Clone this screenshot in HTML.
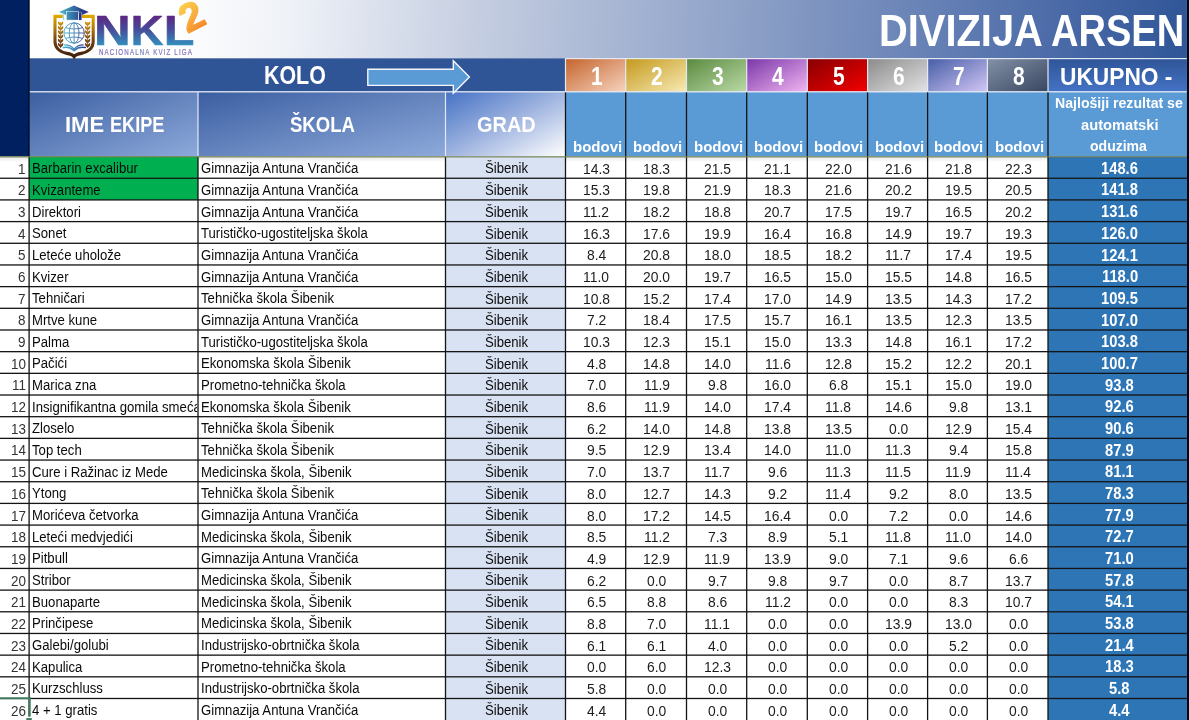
<!DOCTYPE html>
<html lang="hr"><head><meta charset="utf-8"><title>DIVIZIJA ARSEN</title>
<style>
*{box-sizing:border-box;margin:0;padding:0}
html,body{width:1189px;height:720px;overflow:hidden;background:#fff}
body{position:relative;font-family:"Liberation Sans",sans-serif;color:#000}
svg.bg{position:absolute;left:0;top:0}
.t{position:absolute;white-space:nowrap;transform-origin:0 0}
.w{color:#fff;font-weight:bold}
.nm{color:#0a0a0a}
.num{color:#1c1c1c}
.idx{color:#333}
.clip{position:absolute;overflow:hidden}
</style></head><body>
<svg class="bg" width="1189" height="720" viewBox="0 0 1189 720">
<defs>
<linearGradient id="gb" gradientUnits="userSpaceOnUse" x1="170" y1="0" x2="1190" y2="70"><stop offset="0" stop-color="#fff"/><stop offset=".12" stop-color="#eef1f7"/><stop offset=".3" stop-color="#c5cee1"/><stop offset=".5" stop-color="#9aabcd"/><stop offset=".7" stop-color="#7089ba"/><stop offset=".88" stop-color="#4868a6"/><stop offset="1" stop-color="#2f5597"/></linearGradient>
<linearGradient id="g1" x1="0" y1="0" x2="1" y2="1"><stop offset="0" stop-color="#3b5ea1"/><stop offset="1" stop-color="#8eaadb"/></linearGradient>
<linearGradient id="g3" x1="0" y1="0" x2="1" y2="1"><stop offset="0" stop-color="#4472c4"/><stop offset=".5" stop-color="#9fb4e0"/><stop offset="1" stop-color="#fff"/></linearGradient>
<linearGradient id="gu" x1="0" y1="0" x2="0" y2="1"><stop offset="0" stop-color="#2f5597"/><stop offset="1" stop-color="#4472c4"/></linearGradient>
<linearGradient id="gs" x1="0" y1="0" x2="0" y2="1"><stop offset="0" stop-color="#e6e6e6"/><stop offset="1" stop-color="#fff"/></linearGradient>
<linearGradient id="r0" x1="0" y1="0" x2="1" y2="1"><stop offset="0" stop-color="#c5632b"/><stop offset="1" stop-color="#f7d3bf"/></linearGradient>
<linearGradient id="r1" x1="0" y1="0" x2="1" y2="1"><stop offset="0" stop-color="#c3981a"/><stop offset="1" stop-color="#f9ebb6"/></linearGradient>
<linearGradient id="r2" x1="0" y1="0" x2="1" y2="1"><stop offset="0" stop-color="#5a893e"/><stop offset="1" stop-color="#badaa6"/></linearGradient>
<linearGradient id="r3" x1="0" y1="0" x2="1" y2="1"><stop offset="0" stop-color="#7836a7"/><stop offset="1" stop-color="#f2b4f2"/></linearGradient>
<linearGradient id="r4" x1="0" y1="0" x2="1" y2="1"><stop offset="0" stop-color="#870000"/><stop offset="1" stop-color="#f40000"/></linearGradient>
<linearGradient id="r5" x1="0" y1="0" x2="1" y2="1"><stop offset="0" stop-color="#8a8a8a"/><stop offset="1" stop-color="#e3e3e3"/></linearGradient>
<linearGradient id="r6" x1="0" y1="0" x2="1" y2="1"><stop offset="0" stop-color="#445ca6"/><stop offset="1" stop-color="#d3c7f6"/></linearGradient>
<linearGradient id="r7" x1="0" y1="0" x2="1" y2="1"><stop offset="0" stop-color="#8392a9"/><stop offset="1" stop-color="#38465f"/></linearGradient>

<linearGradient id="lgS" gradientUnits="userSpaceOnUse" x1="0" y1="15" x2="0" y2="58"><stop offset="0" stop-color="#e2ab00"/><stop offset=".3" stop-color="#b47a08"/><stop offset=".62" stop-color="#6e3f12"/><stop offset="1" stop-color="#3d1d0a"/></linearGradient>
<linearGradient id="lgC" gradientUnits="userSpaceOnUse" x1="59" y1="0" x2="89" y2="0"><stop offset="0" stop-color="#5bc0d2"/><stop offset=".3" stop-color="#3c8fb4"/><stop offset=".7" stop-color="#2d4a90"/><stop offset=".9" stop-color="#2a2f80"/><stop offset="1" stop-color="#4f2a86"/></linearGradient>
<linearGradient id="lgG" gradientUnits="userSpaceOnUse" x1="63" y1="0" x2="86" y2="0"><stop offset="0" stop-color="#3fb0cc"/><stop offset=".5" stop-color="#3f7fb4"/><stop offset="1" stop-color="#2a3488"/></linearGradient>
<linearGradient id="lgN" gradientUnits="userSpaceOnUse" x1="0" y1="-29.5" x2="0" y2="0.5"><stop offset="0" stop-color="#5e2583"/><stop offset=".45" stop-color="#474a98"/><stop offset="1" stop-color="#3290bd"/></linearGradient>
<linearGradient id="lg2" gradientUnits="userSpaceOnUse" x1="4" y1="-28" x2="14" y2="2"><stop offset="0" stop-color="#fbd04f"/><stop offset=".5" stop-color="#f9b040"/><stop offset="1" stop-color="#f68a2a"/></linearGradient>
<linearGradient id="lgT" gradientUnits="userSpaceOnUse" x1="0" y1="0" x2="120" y2="0"><stop offset="0" stop-color="#5a3594"/><stop offset=".5" stop-color="#4a55a6"/><stop offset="1" stop-color="#5a3a98"/></linearGradient>

</defs>
<rect x="0" y="0" width="1189" height="720" fill="#fff"/>
<rect x="0" y="0" width="29.1" height="156.57" fill="#002060"/>
<rect x="29.1" y="0" width="1157.8" height="58.3" fill="url(#gb)"/>
<rect x="29.1" y="58.3" width="536.4" height="33.5" fill="#2f5597"/>
<rect x="29.1" y="91.8" width="168.9" height="64.77" fill="url(#g1)"/>
<rect x="198" y="91.8" width="247.5" height="64.77" fill="url(#g1)"/>
<rect x="445.5" y="91.8" width="120" height="64.77" fill="url(#g3)"/>
<rect x="565.5" y="91.8" width="621.4" height="64.77" fill="#5b9bd5"/>
<rect x="565.5" y="58.3" width="60.2" height="33.5" fill="url(#r0)"/>
<rect x="625.7" y="58.3" width="60.8" height="33.5" fill="url(#r1)"/>
<rect x="686.5" y="58.3" width="60.2" height="33.5" fill="url(#r2)"/>
<rect x="746.7" y="58.3" width="60.6" height="33.5" fill="url(#r3)"/>
<rect x="807.3" y="58.3" width="60.3" height="33.5" fill="url(#r4)"/>
<rect x="867.6" y="58.3" width="60" height="33.5" fill="url(#r5)"/>
<rect x="927.6" y="58.3" width="59.8" height="33.5" fill="url(#r6)"/>
<rect x="987.4" y="58.3" width="60.6" height="33.5" fill="url(#r7)"/>
<rect x="1048" y="58.3" width="138.9" height="33.5" fill="url(#gu)"/>
<rect x="0" y="156.57" width="1186.9" height="5.5" fill="url(#gs)"/>
<rect x="29.1" y="156.57" width="168.9" height="43.35" fill="#00b050"/>
<rect x="445.5" y="156.57" width="120" height="563.43" fill="#d9e2f3"/>
<rect x="1048" y="156.57" width="138.9" height="563.43" fill="#2e75b6"/>
<rect x="29.1" y="91.15" width="1157.8" height="1.3" fill="#e2e8f4"/>
<rect x="565.5" y="58" width="621.4" height="1.2" fill="#e2e8f4"/>
<rect x="197.4" y="91.8" width="1.2" height="64.77" fill="#e2e8f4"/>
<rect x="444.9" y="91.8" width="1.2" height="64.77" fill="#e2e8f4"/>
<rect x="564.9" y="58.3" width="1.2" height="33.5" fill="#e2e8f4"/>
<rect x="625.1" y="58.3" width="1.2" height="33.5" fill="#e2e8f4"/>
<rect x="685.9" y="58.3" width="1.2" height="33.5" fill="#e2e8f4"/>
<rect x="746.1" y="58.3" width="1.2" height="33.5" fill="#e2e8f4"/>
<rect x="806.7" y="58.3" width="1.2" height="33.5" fill="#e2e8f4"/>
<rect x="867" y="58.3" width="1.2" height="33.5" fill="#e2e8f4"/>
<rect x="927" y="58.3" width="1.2" height="33.5" fill="#e2e8f4"/>
<rect x="986.8" y="58.3" width="1.2" height="33.5" fill="#e2e8f4"/>
<rect x="1047.4" y="58.3" width="1.2" height="33.5" fill="#e2e8f4"/>
<rect x="28.3" y="0" width="1.4" height="156.57" fill="#000c24"/>
<rect x="564.85" y="92.4" width="1.3" height="64.17" fill="#141414"/>
<rect x="625.05" y="92.4" width="1.3" height="64.17" fill="#141414"/>
<rect x="685.85" y="92.4" width="1.3" height="64.17" fill="#141414"/>
<rect x="746.05" y="92.4" width="1.3" height="64.17" fill="#141414"/>
<rect x="806.65" y="92.4" width="1.3" height="64.17" fill="#141414"/>
<rect x="866.95" y="92.4" width="1.3" height="64.17" fill="#141414"/>
<rect x="926.95" y="92.4" width="1.3" height="64.17" fill="#141414"/>
<rect x="986.75" y="92.4" width="1.3" height="64.17" fill="#141414"/>
<rect x="1047.35" y="92.4" width="1.3" height="64.17" fill="#141414"/>
<rect x="28.45" y="156.57" width="1.3" height="563.43" fill="#141414"/>
<rect x="197.35" y="156.57" width="1.3" height="563.43" fill="#141414"/>
<rect x="444.85" y="156.57" width="1.3" height="563.43" fill="#141414"/>
<rect x="564.85" y="156.57" width="1.3" height="563.43" fill="#141414"/>
<rect x="625.05" y="156.57" width="1.3" height="563.43" fill="#141414"/>
<rect x="685.85" y="156.57" width="1.3" height="563.43" fill="#141414"/>
<rect x="746.05" y="156.57" width="1.3" height="563.43" fill="#141414"/>
<rect x="806.65" y="156.57" width="1.3" height="563.43" fill="#141414"/>
<rect x="866.95" y="156.57" width="1.3" height="563.43" fill="#141414"/>
<rect x="926.95" y="156.57" width="1.3" height="563.43" fill="#141414"/>
<rect x="986.75" y="156.57" width="1.3" height="563.43" fill="#141414"/>
<rect x="1047.35" y="156.57" width="1.3" height="563.43" fill="#141414"/>
<rect x="0" y="177.6" width="1186.9" height="1.3" fill="#141414"/>
<rect x="0" y="199.27" width="1186.9" height="1.3" fill="#141414"/>
<rect x="0" y="220.95" width="1186.9" height="1.3" fill="#141414"/>
<rect x="0" y="242.63" width="1186.9" height="1.3" fill="#141414"/>
<rect x="0" y="264.31" width="1186.9" height="1.3" fill="#141414"/>
<rect x="0" y="285.98" width="1186.9" height="1.3" fill="#141414"/>
<rect x="0" y="307.66" width="1186.9" height="1.3" fill="#141414"/>
<rect x="0" y="329.34" width="1186.9" height="1.3" fill="#141414"/>
<rect x="0" y="351.01" width="1186.9" height="1.3" fill="#141414"/>
<rect x="0" y="372.69" width="1186.9" height="1.3" fill="#141414"/>
<rect x="0" y="394.37" width="1186.9" height="1.3" fill="#141414"/>
<rect x="0" y="416.04" width="1186.9" height="1.3" fill="#141414"/>
<rect x="0" y="437.72" width="1186.9" height="1.3" fill="#141414"/>
<rect x="0" y="459.4" width="1186.9" height="1.3" fill="#141414"/>
<rect x="0" y="481.07" width="1186.9" height="1.3" fill="#141414"/>
<rect x="0" y="502.75" width="1186.9" height="1.3" fill="#141414"/>
<rect x="0" y="524.43" width="1186.9" height="1.3" fill="#141414"/>
<rect x="0" y="546.11" width="1186.9" height="1.3" fill="#141414"/>
<rect x="0" y="567.78" width="1186.9" height="1.3" fill="#141414"/>
<rect x="0" y="589.46" width="1186.9" height="1.3" fill="#141414"/>
<rect x="0" y="611.14" width="1186.9" height="1.3" fill="#141414"/>
<rect x="0" y="632.81" width="1186.9" height="1.3" fill="#141414"/>
<rect x="0" y="654.49" width="1186.9" height="1.3" fill="#141414"/>
<rect x="0" y="676.17" width="1186.9" height="1.3" fill="#141414"/>
<rect x="0" y="697.84" width="1186.9" height="1.3" fill="#141414"/>
<rect x="0" y="156.32" width="1186.9" height="1.1" fill="#6c7b45"/>
<rect x="0" y="697.3" width="30.7" height="1.9" fill="#3d7d5d"/>
<rect x="28.5" y="697.3" width="2.2" height="19.3" fill="#3d7d5d"/>
<rect x="27.5" y="716.7" width="4.2" height="1.3" fill="#fff"/>
<rect x="26.3" y="718.1" width="5.5" height="2" fill="#3d7d5d"/>
<path d="M367.8 69.3H453.3V60.8L469.4 77 453.3 93.2V85.4H367.8Z" fill="#5b9bd5" stroke="#f4f7fc" stroke-width="1.4"/>
<g id="logo">
<path d="M62.8 16.4H55V41.2C55 49 61.5 52.6 66.8 53.4 70.6 54 72.9 54.8 74.1 56.6 75.3 54.8 77.6 54 81.4 53.4 86.7 52.6 93.2 49 93.2 41.2V16.4H82" fill="none" stroke="url(#lgS)" stroke-width="3.1" stroke-linejoin="miter"/>
<path d="M60.6 22V48" stroke="url(#lgS)" stroke-width=".8" fill="none"/><path d="M60.6 25.700000000000003c-2.3 -.4 -3 -2.3 -2.6 -4.1 1.8 .6 2.7 2.1 2.6 4.1zm0 0c2.3 -.4 3 -2.3 2.6 -4.1 -1.8 .6 -2.7 2.1 -2.6 4.1z" fill="url(#lgS)"/><path d="M60.6 30.0c-2.3 -.4 -3 -2.3 -2.6 -4.1 1.8 .6 2.7 2.1 2.6 4.1zm0 0c2.3 -.4 3 -2.3 2.6 -4.1 -1.8 .6 -2.7 2.1 -2.6 4.1z" fill="url(#lgS)"/><path d="M60.6 34.3c-2.3 -.4 -3 -2.3 -2.6 -4.1 1.8 .6 2.7 2.1 2.6 4.1zm0 0c2.3 -.4 3 -2.3 2.6 -4.1 -1.8 .6 -2.7 2.1 -2.6 4.1z" fill="url(#lgS)"/><path d="M60.6 38.6c-2.3 -.4 -3 -2.3 -2.6 -4.1 1.8 .6 2.7 2.1 2.6 4.1zm0 0c2.3 -.4 3 -2.3 2.6 -4.1 -1.8 .6 -2.7 2.1 -2.6 4.1z" fill="url(#lgS)"/><path d="M60.6 42.9c-2.3 -.4 -3 -2.3 -2.6 -4.1 1.8 .6 2.7 2.1 2.6 4.1zm0 0c2.3 -.4 3 -2.3 2.6 -4.1 -1.8 .6 -2.7 2.1 -2.6 4.1z" fill="url(#lgS)"/><path d="M60.6 47.199999999999996c-2.3 -.4 -3 -2.3 -2.6 -4.1 1.8 .6 2.7 2.1 2.6 4.1zm0 0c2.3 -.4 3 -2.3 2.6 -4.1 -1.8 .6 -2.7 2.1 -2.6 4.1z" fill="url(#lgS)"/><path d="M87.6 22V48" stroke="url(#lgS)" stroke-width=".8" fill="none"/><path d="M87.6 25.700000000000003c-2.3 -.4 -3 -2.3 -2.6 -4.1 1.8 .6 2.7 2.1 2.6 4.1zm0 0c2.3 -.4 3 -2.3 2.6 -4.1 -1.8 .6 -2.7 2.1 -2.6 4.1z" fill="url(#lgS)"/><path d="M87.6 30.0c-2.3 -.4 -3 -2.3 -2.6 -4.1 1.8 .6 2.7 2.1 2.6 4.1zm0 0c2.3 -.4 3 -2.3 2.6 -4.1 -1.8 .6 -2.7 2.1 -2.6 4.1z" fill="url(#lgS)"/><path d="M87.6 34.3c-2.3 -.4 -3 -2.3 -2.6 -4.1 1.8 .6 2.7 2.1 2.6 4.1zm0 0c2.3 -.4 3 -2.3 2.6 -4.1 -1.8 .6 -2.7 2.1 -2.6 4.1z" fill="url(#lgS)"/><path d="M87.6 38.6c-2.3 -.4 -3 -2.3 -2.6 -4.1 1.8 .6 2.7 2.1 2.6 4.1zm0 0c2.3 -.4 3 -2.3 2.6 -4.1 -1.8 .6 -2.7 2.1 -2.6 4.1z" fill="url(#lgS)"/><path d="M87.6 42.9c-2.3 -.4 -3 -2.3 -2.6 -4.1 1.8 .6 2.7 2.1 2.6 4.1zm0 0c2.3 -.4 3 -2.3 2.6 -4.1 -1.8 .6 -2.7 2.1 -2.6 4.1z" fill="url(#lgS)"/><path d="M87.6 47.199999999999996c-2.3 -.4 -3 -2.3 -2.6 -4.1 1.8 .6 2.7 2.1 2.6 4.1zm0 0c2.3 -.4 3 -2.3 2.6 -4.1 -1.8 .6 -2.7 2.1 -2.6 4.1z" fill="url(#lgS)"/>
<g fill="none" stroke="url(#lgG)" stroke-width="1" opacity=".9"><circle cx="74.1" cy="33" r="10.2"/><ellipse cx="74.1" cy="33" rx="4.9" ry="10.2"/><path d="M74.1 22.8V43.2M63.9 33H84.3M65.6 27.6C70.8 29.4 77.4 29.4 82.6 27.6M65.6 38.4C70.8 36.6 77.4 36.6 82.6 38.4"/></g>
<g fill="none" stroke="url(#lgG)" stroke-linecap="round"><path d="M63.4 47.6C67.6 46.7 71.3 48 74.1 50.6 76.9 48 80.6 46.7 85.3 47.6" stroke-width="1.5"/><path d="M64.6 44.9C68.4 44.8 71.6 46.3 74.1 49.2 76.6 46.3 79.8 44.8 83.2 44.9" stroke-width="1.1"/></g>
<path d="M59 12.1L74 5.5 88.7 12.1 81.9 15V12.6H66.2V15.1Z" fill="url(#lgC)"/>
<rect x="66.3" y="11.6" width="12" height="8.5" fill="url(#lgC)" stroke="#fff" stroke-width=".5"/>
<rect x="78.9" y="12.4" width="2.7" height="7.7" fill="#2b3585"/>
<path d="M63.6 13.2V18.6" stroke="#7fd0e0" stroke-width=".8" fill="none"/><circle cx="63.7" cy="19" r=".8" fill="#6cc4d8"/>
<text transform="translate(94.01 45.0) scale(1.1982 1)" font-family="'Liberation Sans',sans-serif" font-weight="bold" font-size="42.30" fill="url(#lgN)" stroke="url(#lgN)" stroke-width=".6" stroke-linejoin="round">N</text>
<text transform="translate(130.76 45.0) scale(1.0703 1)" font-family="'Liberation Sans',sans-serif" font-weight="bold" font-size="42.30" fill="url(#lgN)" stroke="url(#lgN)" stroke-width=".6" stroke-linejoin="round">K</text>
<text transform="translate(163.83 45.0) scale(1.1890 1)" font-family="'Liberation Sans',sans-serif" font-weight="bold" font-size="42.30" fill="url(#lgN)" stroke="url(#lgN)" stroke-width=".6" stroke-linejoin="round">L</text>
<text transform="translate(187.4 33.6) rotate(-27) scale(1.04 1)" font-family="'Liberation Sans',sans-serif" font-weight="bold" font-size="39.5" fill="url(#lg2)" stroke="url(#lg2)" stroke-width="1.2" stroke-linejoin="round">2</text>
<text transform="translate(99 54.8) scale(.74 1)" font-family="'Liberation Sans',sans-serif" font-size="8.4" textLength="125.5" lengthAdjust="spacing" fill="url(#lgT)" stroke="url(#lgT)" stroke-width=".2" opacity=".75">NACIONALNA KVIZ LIGA</text>
</g>

<rect x="1186.9" y="0" width="2.1" height="720" fill="#00091c"/>
</svg>
<div class="t w" id="title" style="left:879.01px;top:8px;font-size:45.06px;line-height:46px;transform:scaleX(0.8844);">DIVIZIJA</div>
<div class="t w" id="title2" style="left:1051.25px;top:8px;font-size:45.06px;line-height:46px;transform:scaleX(0.8448);">ARSEN</div>
<div class="t w" id="kolo" style="left:263.91px;top:63px;font-size:25px;line-height:25px;transform:scaleX(0.8561);">KOLO</div>
<div class="t w" id="uk" style="left:1059.74px;top:64px;font-size:24.42px;line-height:25px;transform:scaleX(0.9315);">UKUPNO -</div>
<div class="t w" style="left:591.21px;top:64px;font-size:25px;line-height:25px;transform:scaleX(0.839);">1</div>
<div class="t w" style="left:651.33px;top:64px;font-size:25px;line-height:25px;transform:scaleX(0.839);">2</div>
<div class="t w" style="left:711.88px;top:64px;font-size:25px;line-height:25px;transform:scaleX(0.839);">3</div>
<div class="t w" style="left:772.07px;top:64px;font-size:25px;line-height:25px;transform:scaleX(0.839);">4</div>
<div class="t w" style="left:832.58px;top:64px;font-size:25px;line-height:25px;transform:scaleX(0.839);">5</div>
<div class="t w" style="left:892.78px;top:64px;font-size:25px;line-height:25px;transform:scaleX(0.839);">6</div>
<div class="t w" style="left:952.68px;top:64px;font-size:25px;line-height:25px;transform:scaleX(0.839);">7</div>
<div class="t w" style="left:1012.88px;top:64px;font-size:25px;line-height:25px;transform:scaleX(0.839);">8</div>
<div class="t w" style="left:64.67px;top:114px;font-size:21.66px;line-height:22px;transform:scaleX(1.0145);">IME</div>
<div class="t w" style="left:109.82px;top:114px;font-size:21.66px;line-height:22px;transform:scaleX(0.8375);">EKIPE</div>
<div class="t w" style="left:289.64px;top:114px;font-size:21.66px;line-height:22px;transform:scaleX(0.8551);">ŠKOLA</div>
<div class="t w" style="left:476.6px;top:114px;font-size:21.66px;line-height:22px;transform:scaleX(0.9203);">GRAD</div>
<div class="t w" style="left:572.57px;top:139px;font-size:15.17px;line-height:16px;transform:scaleX(0.9913);">bodovi</div>
<div class="t w" style="left:633.07px;top:139px;font-size:15.17px;line-height:16px;transform:scaleX(0.9913);">bodovi</div>
<div class="t w" style="left:693.57px;top:139px;font-size:15.17px;line-height:16px;transform:scaleX(0.9913);">bodovi</div>
<div class="t w" style="left:753.97px;top:139px;font-size:15.17px;line-height:16px;transform:scaleX(0.9913);">bodovi</div>
<div class="t w" style="left:814.42px;top:139px;font-size:15.17px;line-height:16px;transform:scaleX(0.9913);">bodovi</div>
<div class="t w" style="left:874.57px;top:139px;font-size:15.17px;line-height:16px;transform:scaleX(0.9913);">bodovi</div>
<div class="t w" style="left:934.47px;top:139px;font-size:15.17px;line-height:16px;transform:scaleX(0.9913);">bodovi</div>
<div class="t w" style="left:994.67px;top:139px;font-size:15.17px;line-height:16px;transform:scaleX(0.9913);">bodovi</div>
<div class="t w" style="left:1055.18px;top:96px;font-size:14.68px;line-height:15px;transform:scaleX(0.9617);">Najlošiji rezultat se</div>
<div class="t w" style="left:1080.56px;top:118px;font-size:14.68px;line-height:15px;transform:scaleX(1.0007);">automatski</div>
<div class="t w" style="left:1089.94px;top:139px;font-size:14.68px;line-height:15px;transform:scaleX(0.9562);">oduzima</div>
<div class="t idx" style="left:18.23px;top:162px;font-size:13.95px;line-height:14px;transform:scaleX(0.9651);">1</div><div class="t nm" style="left:31.85px;top:162px;font-size:13.74px;line-height:14px;transform:scaleX(0.957);">Barbarin excalibur</div><div class="t nm" style="left:200.7px;top:162px;font-size:13.74px;line-height:14px;transform:scaleX(0.957);">Gimnazija Antuna Vrančića</div><div class="t nm" style="left:484.85px;top:162px;font-size:13.74px;line-height:14px;transform:scaleX(0.957);">Šibenik</div><div class="t num" style="left:582.76px;top:162px;font-size:13.95px;line-height:14px;transform:scaleX(0.995);">14.3</div><div class="t num" style="left:643.26px;top:162px;font-size:13.95px;line-height:14px;transform:scaleX(0.995);">18.3</div><div class="t num" style="left:703.93px;top:162px;font-size:13.95px;line-height:14px;transform:scaleX(0.995);">21.5</div><div class="t num" style="left:764.37px;top:162px;font-size:13.95px;line-height:14px;transform:scaleX(0.995);">21.1</div><div class="t num" style="left:824.75px;top:162px;font-size:13.95px;line-height:14px;transform:scaleX(0.995);">22.0</div><div class="t num" style="left:884.93px;top:162px;font-size:13.95px;line-height:14px;transform:scaleX(0.995);">21.6</div><div class="t num" style="left:944.83px;top:162px;font-size:13.95px;line-height:14px;transform:scaleX(0.995);">21.8</div><div class="t num" style="left:1005.03px;top:162px;font-size:13.95px;line-height:14px;transform:scaleX(0.995);">22.3</div><div class="t w" style="left:1101.11px;top:161px;font-size:15.7px;line-height:16px;transform:scaleX(0.9403);">148.6</div>
<div class="t idx" style="left:18.3px;top:183px;font-size:13.95px;line-height:14px;transform:scaleX(0.9651);">2</div><div class="t nm" style="left:31.85px;top:184px;font-size:13.74px;line-height:14px;transform:scaleX(0.957);">Kvizanteme</div><div class="t nm" style="left:200.7px;top:184px;font-size:13.74px;line-height:14px;transform:scaleX(0.957);">Gimnazija Antuna Vrančića</div><div class="t nm" style="left:484.85px;top:184px;font-size:13.74px;line-height:14px;transform:scaleX(0.957);">Šibenik</div><div class="t num" style="left:582.76px;top:183px;font-size:13.95px;line-height:14px;transform:scaleX(0.995);">15.3</div><div class="t num" style="left:643.26px;top:183px;font-size:13.95px;line-height:14px;transform:scaleX(0.995);">19.8</div><div class="t num" style="left:703.97px;top:183px;font-size:13.95px;line-height:14px;transform:scaleX(0.995);">21.9</div><div class="t num" style="left:764.16px;top:183px;font-size:13.95px;line-height:14px;transform:scaleX(0.995);">18.3</div><div class="t num" style="left:824.78px;top:183px;font-size:13.95px;line-height:14px;transform:scaleX(0.995);">21.6</div><div class="t num" style="left:885px;top:183px;font-size:13.95px;line-height:14px;transform:scaleX(0.995);">20.2</div><div class="t num" style="left:944.66px;top:183px;font-size:13.95px;line-height:14px;transform:scaleX(0.995);">19.5</div><div class="t num" style="left:1005.03px;top:183px;font-size:13.95px;line-height:14px;transform:scaleX(0.995);">20.5</div><div class="t w" style="left:1101.08px;top:182px;font-size:15.7px;line-height:16px;transform:scaleX(0.9403);">141.8</div>
<div class="t idx" style="left:18.17px;top:205px;font-size:13.95px;line-height:14px;transform:scaleX(0.9651);">3</div><div class="t nm" style="left:31.85px;top:206px;font-size:13.74px;line-height:14px;transform:scaleX(0.957);">Direktori</div><div class="t nm" style="left:200.7px;top:206px;font-size:13.74px;line-height:14px;transform:scaleX(0.957);">Gimnazija Antuna Vrančića</div><div class="t nm" style="left:484.85px;top:206px;font-size:13.74px;line-height:14px;transform:scaleX(0.957);">Šibenik</div><div class="t num" style="left:583.35px;top:205px;font-size:13.95px;line-height:14px;transform:scaleX(0.995);">11.2</div><div class="t num" style="left:643.33px;top:205px;font-size:13.95px;line-height:14px;transform:scaleX(0.995);">18.2</div><div class="t num" style="left:703.76px;top:205px;font-size:13.95px;line-height:14px;transform:scaleX(0.995);">18.8</div><div class="t num" style="left:764.4px;top:205px;font-size:13.95px;line-height:14px;transform:scaleX(0.995);">20.7</div><div class="t num" style="left:824.61px;top:205px;font-size:13.95px;line-height:14px;transform:scaleX(0.995);">17.5</div><div class="t num" style="left:884.83px;top:205px;font-size:13.95px;line-height:14px;transform:scaleX(0.995);">19.7</div><div class="t num" style="left:944.66px;top:205px;font-size:13.95px;line-height:14px;transform:scaleX(0.995);">16.5</div><div class="t num" style="left:1005.1px;top:205px;font-size:13.95px;line-height:14px;transform:scaleX(0.995);">20.2</div><div class="t w" style="left:1101.11px;top:204px;font-size:15.7px;line-height:16px;transform:scaleX(0.9403);">131.6</div>
<div class="t idx" style="left:18.03px;top:227px;font-size:13.95px;line-height:14px;transform:scaleX(0.9651);">4</div><div class="t nm" style="left:31.85px;top:227px;font-size:13.74px;line-height:14px;transform:scaleX(0.957);">Sonet</div><div class="t nm" style="left:200.7px;top:227px;font-size:13.74px;line-height:14px;transform:scaleX(0.957);">Turističko-ugostiteljska škola</div><div class="t nm" style="left:484.85px;top:228px;font-size:13.74px;line-height:14px;transform:scaleX(0.957);">Šibenik</div><div class="t num" style="left:582.76px;top:227px;font-size:13.95px;line-height:14px;transform:scaleX(0.995);">16.3</div><div class="t num" style="left:643.26px;top:227px;font-size:13.95px;line-height:14px;transform:scaleX(0.995);">17.6</div><div class="t num" style="left:703.79px;top:227px;font-size:13.95px;line-height:14px;transform:scaleX(0.995);">19.9</div><div class="t num" style="left:764.09px;top:227px;font-size:13.95px;line-height:14px;transform:scaleX(0.995);">16.4</div><div class="t num" style="left:824.61px;top:227px;font-size:13.95px;line-height:14px;transform:scaleX(0.995);">16.8</div><div class="t num" style="left:884.79px;top:227px;font-size:13.95px;line-height:14px;transform:scaleX(0.995);">14.9</div><div class="t num" style="left:944.73px;top:227px;font-size:13.95px;line-height:14px;transform:scaleX(0.995);">19.7</div><div class="t num" style="left:1004.86px;top:227px;font-size:13.95px;line-height:14px;transform:scaleX(0.995);">19.3</div><div class="t w" style="left:1101.15px;top:226px;font-size:15.7px;line-height:16px;transform:scaleX(0.9403);">126.0</div>
<div class="t idx" style="left:18.17px;top:248px;font-size:13.95px;line-height:14px;transform:scaleX(0.9651);">5</div><div class="t nm" style="left:31.85px;top:249px;font-size:13.74px;line-height:14px;transform:scaleX(0.957);">Leteće uholože</div><div class="t nm" style="left:200.7px;top:249px;font-size:13.74px;line-height:14px;transform:scaleX(0.957);">Gimnazija Antuna Vrančića</div><div class="t nm" style="left:484.85px;top:249px;font-size:13.74px;line-height:14px;transform:scaleX(0.957);">Šibenik</div><div class="t num" style="left:586.75px;top:248px;font-size:13.95px;line-height:14px;transform:scaleX(0.995);">8.4</div><div class="t num" style="left:643.43px;top:248px;font-size:13.95px;line-height:14px;transform:scaleX(0.995);">20.8</div><div class="t num" style="left:703.72px;top:248px;font-size:13.95px;line-height:14px;transform:scaleX(0.995);">18.0</div><div class="t num" style="left:764.16px;top:248px;font-size:13.95px;line-height:14px;transform:scaleX(0.995);">18.5</div><div class="t num" style="left:824.68px;top:248px;font-size:13.95px;line-height:14px;transform:scaleX(0.995);">18.2</div><div class="t num" style="left:885.35px;top:248px;font-size:13.95px;line-height:14px;transform:scaleX(0.995);">11.7</div><div class="t num" style="left:944.59px;top:248px;font-size:13.95px;line-height:14px;transform:scaleX(0.995);">17.4</div><div class="t num" style="left:1004.86px;top:248px;font-size:13.95px;line-height:14px;transform:scaleX(0.995);">19.5</div><div class="t w" style="left:1101.04px;top:248px;font-size:15.7px;line-height:16px;transform:scaleX(0.9403);">124.1</div>
<div class="t idx" style="left:18.17px;top:270px;font-size:13.95px;line-height:14px;transform:scaleX(0.9651);">6</div><div class="t nm" style="left:31.85px;top:271px;font-size:13.74px;line-height:14px;transform:scaleX(0.957);">Kvizer</div><div class="t nm" style="left:200.7px;top:271px;font-size:13.74px;line-height:14px;transform:scaleX(0.957);">Gimnazija Antuna Vrančića</div><div class="t nm" style="left:484.85px;top:271px;font-size:13.74px;line-height:14px;transform:scaleX(0.957);">Šibenik</div><div class="t num" style="left:583.24px;top:270px;font-size:13.95px;line-height:14px;transform:scaleX(0.995);">11.0</div><div class="t num" style="left:643.4px;top:270px;font-size:13.95px;line-height:14px;transform:scaleX(0.995);">20.0</div><div class="t num" style="left:703.83px;top:270px;font-size:13.95px;line-height:14px;transform:scaleX(0.995);">19.7</div><div class="t num" style="left:764.16px;top:270px;font-size:13.95px;line-height:14px;transform:scaleX(0.995);">16.5</div><div class="t num" style="left:824.57px;top:270px;font-size:13.95px;line-height:14px;transform:scaleX(0.995);">15.0</div><div class="t num" style="left:884.76px;top:270px;font-size:13.95px;line-height:14px;transform:scaleX(0.995);">15.5</div><div class="t num" style="left:944.66px;top:270px;font-size:13.95px;line-height:14px;transform:scaleX(0.995);">14.8</div><div class="t num" style="left:1004.86px;top:270px;font-size:13.95px;line-height:14px;transform:scaleX(0.995);">16.5</div><div class="t w" style="left:1101.56px;top:269px;font-size:15.7px;line-height:16px;transform:scaleX(0.9403);">118.0</div>
<div class="t idx" style="left:18.3px;top:292px;font-size:13.95px;line-height:14px;transform:scaleX(0.9651);">7</div><div class="t nm" style="left:31.85px;top:292px;font-size:13.74px;line-height:14px;transform:scaleX(0.957);">Tehničari</div><div class="t nm" style="left:200.7px;top:292px;font-size:13.74px;line-height:14px;transform:scaleX(0.957);">Tehnička škola Šibenik</div><div class="t nm" style="left:484.85px;top:293px;font-size:13.74px;line-height:14px;transform:scaleX(0.957);">Šibenik</div><div class="t num" style="left:582.76px;top:292px;font-size:13.95px;line-height:14px;transform:scaleX(0.995);">10.8</div><div class="t num" style="left:643.33px;top:292px;font-size:13.95px;line-height:14px;transform:scaleX(0.995);">15.2</div><div class="t num" style="left:703.69px;top:292px;font-size:13.95px;line-height:14px;transform:scaleX(0.995);">17.4</div><div class="t num" style="left:764.12px;top:292px;font-size:13.95px;line-height:14px;transform:scaleX(0.995);">17.0</div><div class="t num" style="left:824.64px;top:292px;font-size:13.95px;line-height:14px;transform:scaleX(0.995);">14.9</div><div class="t num" style="left:884.76px;top:292px;font-size:13.95px;line-height:14px;transform:scaleX(0.995);">13.5</div><div class="t num" style="left:944.66px;top:292px;font-size:13.95px;line-height:14px;transform:scaleX(0.995);">14.3</div><div class="t num" style="left:1004.93px;top:292px;font-size:13.95px;line-height:14px;transform:scaleX(0.995);">17.2</div><div class="t w" style="left:1101.04px;top:291px;font-size:15.7px;line-height:16px;transform:scaleX(0.9403);">109.5</div>
<div class="t idx" style="left:18.17px;top:313px;font-size:13.95px;line-height:14px;transform:scaleX(0.9651);">8</div><div class="t nm" style="left:31.85px;top:314px;font-size:13.74px;line-height:14px;transform:scaleX(0.957);">Mrtve kune</div><div class="t nm" style="left:200.7px;top:314px;font-size:13.74px;line-height:14px;transform:scaleX(0.957);">Gimnazija Antuna Vrančića</div><div class="t nm" style="left:484.85px;top:314px;font-size:13.74px;line-height:14px;transform:scaleX(0.957);">Šibenik</div><div class="t num" style="left:586.85px;top:313px;font-size:13.95px;line-height:14px;transform:scaleX(0.995);">7.2</div><div class="t num" style="left:643.19px;top:313px;font-size:13.95px;line-height:14px;transform:scaleX(0.995);">18.4</div><div class="t num" style="left:703.76px;top:313px;font-size:13.95px;line-height:14px;transform:scaleX(0.995);">17.5</div><div class="t num" style="left:764.23px;top:313px;font-size:13.95px;line-height:14px;transform:scaleX(0.995);">15.7</div><div class="t num" style="left:824.64px;top:313px;font-size:13.95px;line-height:14px;transform:scaleX(0.995);">16.1</div><div class="t num" style="left:884.76px;top:313px;font-size:13.95px;line-height:14px;transform:scaleX(0.995);">13.5</div><div class="t num" style="left:944.66px;top:313px;font-size:13.95px;line-height:14px;transform:scaleX(0.995);">12.3</div><div class="t num" style="left:1004.86px;top:313px;font-size:13.95px;line-height:14px;transform:scaleX(0.995);">13.5</div><div class="t w" style="left:1101.15px;top:313px;font-size:15.7px;line-height:16px;transform:scaleX(0.9403);">107.0</div>
<div class="t idx" style="left:18.23px;top:335px;font-size:13.95px;line-height:14px;transform:scaleX(0.9651);">9</div><div class="t nm" style="left:31.85px;top:336px;font-size:13.74px;line-height:14px;transform:scaleX(0.957);">Palma</div><div class="t nm" style="left:200.7px;top:336px;font-size:13.74px;line-height:14px;transform:scaleX(0.957);">Turističko-ugostiteljska škola</div><div class="t nm" style="left:484.85px;top:336px;font-size:13.74px;line-height:14px;transform:scaleX(0.957);">Šibenik</div><div class="t num" style="left:582.76px;top:335px;font-size:13.95px;line-height:14px;transform:scaleX(0.995);">10.3</div><div class="t num" style="left:643.26px;top:335px;font-size:13.95px;line-height:14px;transform:scaleX(0.995);">12.3</div><div class="t num" style="left:703.79px;top:335px;font-size:13.95px;line-height:14px;transform:scaleX(0.995);">15.1</div><div class="t num" style="left:764.12px;top:335px;font-size:13.95px;line-height:14px;transform:scaleX(0.995);">15.0</div><div class="t num" style="left:824.61px;top:335px;font-size:13.95px;line-height:14px;transform:scaleX(0.995);">13.3</div><div class="t num" style="left:884.76px;top:335px;font-size:13.95px;line-height:14px;transform:scaleX(0.995);">14.8</div><div class="t num" style="left:944.69px;top:335px;font-size:13.95px;line-height:14px;transform:scaleX(0.995);">16.1</div><div class="t num" style="left:1004.93px;top:335px;font-size:13.95px;line-height:14px;transform:scaleX(0.995);">17.2</div><div class="t w" style="left:1101.08px;top:334px;font-size:15.7px;line-height:16px;transform:scaleX(0.9403);">103.8</div>
<div class="t idx" style="left:10.63px;top:357px;font-size:13.95px;line-height:14px;transform:scaleX(0.9651);">10</div><div class="t nm" style="left:31.85px;top:357px;font-size:13.74px;line-height:14px;transform:scaleX(0.957);">Pačići</div><div class="t nm" style="left:200.7px;top:357px;font-size:13.74px;line-height:14px;transform:scaleX(0.957);">Ekonomska škola Šibenik</div><div class="t nm" style="left:484.85px;top:358px;font-size:13.74px;line-height:14px;transform:scaleX(0.957);">Šibenik</div><div class="t num" style="left:586.99px;top:357px;font-size:13.95px;line-height:14px;transform:scaleX(0.995);">4.8</div><div class="t num" style="left:643.26px;top:357px;font-size:13.95px;line-height:14px;transform:scaleX(0.995);">14.8</div><div class="t num" style="left:703.72px;top:357px;font-size:13.95px;line-height:14px;transform:scaleX(0.995);">14.0</div><div class="t num" style="left:764.68px;top:357px;font-size:13.95px;line-height:14px;transform:scaleX(0.995);">11.6</div><div class="t num" style="left:824.61px;top:357px;font-size:13.95px;line-height:14px;transform:scaleX(0.995);">12.8</div><div class="t num" style="left:884.83px;top:357px;font-size:13.95px;line-height:14px;transform:scaleX(0.995);">15.2</div><div class="t num" style="left:944.73px;top:357px;font-size:13.95px;line-height:14px;transform:scaleX(0.995);">12.2</div><div class="t num" style="left:1005.07px;top:357px;font-size:13.95px;line-height:14px;transform:scaleX(0.995);">20.1</div><div class="t w" style="left:1101.15px;top:356px;font-size:15.7px;line-height:16px;transform:scaleX(0.9403);">100.7</div>
<div class="t idx" style="left:11.77px;top:378px;font-size:13.95px;line-height:14px;transform:scaleX(0.9651);">11</div><div class="t nm" style="left:31.85px;top:379px;font-size:13.74px;line-height:14px;transform:scaleX(0.957);">Marica zna</div><div class="t nm" style="left:200.7px;top:379px;font-size:13.74px;line-height:14px;transform:scaleX(0.957);">Prometno-tehnička škola</div><div class="t nm" style="left:484.85px;top:379px;font-size:13.74px;line-height:14px;transform:scaleX(0.957);">Šibenik</div><div class="t num" style="left:586.75px;top:378px;font-size:13.95px;line-height:14px;transform:scaleX(0.995);">7.0</div><div class="t num" style="left:643.81px;top:378px;font-size:13.95px;line-height:14px;transform:scaleX(0.995);">11.9</div><div class="t num" style="left:707.82px;top:378px;font-size:13.95px;line-height:14px;transform:scaleX(0.995);">9.8</div><div class="t num" style="left:764.12px;top:378px;font-size:13.95px;line-height:14px;transform:scaleX(0.995);">16.0</div><div class="t num" style="left:828.63px;top:378px;font-size:13.95px;line-height:14px;transform:scaleX(0.995);">6.8</div><div class="t num" style="left:884.79px;top:378px;font-size:13.95px;line-height:14px;transform:scaleX(0.995);">15.1</div><div class="t num" style="left:944.62px;top:378px;font-size:13.95px;line-height:14px;transform:scaleX(0.995);">15.0</div><div class="t num" style="left:1004.82px;top:378px;font-size:13.95px;line-height:14px;transform:scaleX(0.995);">19.0</div><div class="t w" style="left:1105.36px;top:378px;font-size:15.7px;line-height:16px;transform:scaleX(0.9403);">93.8</div>
<div class="t idx" style="left:10.83px;top:400px;font-size:13.95px;line-height:14px;transform:scaleX(0.9651);">12</div><div class="clip" style="left:30px;top:395px;width:167.4px;height:21px"><div class="t nm" style="left:1.85px;top:6px;font-size:13.74px;line-height:14px;transform:scaleX(0.957);">Insignifikantna gomila smeća</div></div><div class="t nm" style="left:200.7px;top:401px;font-size:13.74px;line-height:14px;transform:scaleX(0.957);">Ekonomska škola Šibenik</div><div class="t nm" style="left:484.85px;top:401px;font-size:13.74px;line-height:14px;transform:scaleX(0.957);">Šibenik</div><div class="t num" style="left:586.82px;top:400px;font-size:13.95px;line-height:14px;transform:scaleX(0.995);">8.6</div><div class="t num" style="left:643.81px;top:400px;font-size:13.95px;line-height:14px;transform:scaleX(0.995);">11.9</div><div class="t num" style="left:703.72px;top:400px;font-size:13.95px;line-height:14px;transform:scaleX(0.995);">14.0</div><div class="t num" style="left:764.09px;top:400px;font-size:13.95px;line-height:14px;transform:scaleX(0.995);">17.4</div><div class="t num" style="left:825.13px;top:400px;font-size:13.95px;line-height:14px;transform:scaleX(0.995);">11.8</div><div class="t num" style="left:884.76px;top:400px;font-size:13.95px;line-height:14px;transform:scaleX(0.995);">14.6</div><div class="t num" style="left:948.72px;top:400px;font-size:13.95px;line-height:14px;transform:scaleX(0.995);">9.8</div><div class="t num" style="left:1004.89px;top:400px;font-size:13.95px;line-height:14px;transform:scaleX(0.995);">13.1</div><div class="t w" style="left:1105.4px;top:399px;font-size:15.7px;line-height:16px;transform:scaleX(0.9403);">92.6</div>
<div class="t idx" style="left:10.69px;top:422px;font-size:13.95px;line-height:14px;transform:scaleX(0.9651);">13</div><div class="t nm" style="left:31.85px;top:422px;font-size:13.74px;line-height:14px;transform:scaleX(0.957);">Zloselo</div><div class="t nm" style="left:200.7px;top:422px;font-size:13.74px;line-height:14px;transform:scaleX(0.957);">Tehnička škola Šibenik</div><div class="t nm" style="left:484.85px;top:423px;font-size:13.74px;line-height:14px;transform:scaleX(0.957);">Šibenik</div><div class="t num" style="left:586.85px;top:422px;font-size:13.95px;line-height:14px;transform:scaleX(0.995);">6.2</div><div class="t num" style="left:643.22px;top:422px;font-size:13.95px;line-height:14px;transform:scaleX(0.995);">14.0</div><div class="t num" style="left:703.76px;top:422px;font-size:13.95px;line-height:14px;transform:scaleX(0.995);">14.8</div><div class="t num" style="left:764.16px;top:422px;font-size:13.95px;line-height:14px;transform:scaleX(0.995);">13.8</div><div class="t num" style="left:824.61px;top:422px;font-size:13.95px;line-height:14px;transform:scaleX(0.995);">13.5</div><div class="t num" style="left:888.82px;top:422px;font-size:13.95px;line-height:14px;transform:scaleX(0.995);">0.0</div><div class="t num" style="left:944.69px;top:422px;font-size:13.95px;line-height:14px;transform:scaleX(0.995);">12.9</div><div class="t num" style="left:1004.79px;top:422px;font-size:13.95px;line-height:14px;transform:scaleX(0.995);">15.4</div><div class="t w" style="left:1105.4px;top:421px;font-size:15.7px;line-height:16px;transform:scaleX(0.9403);">90.6</div>
<div class="t idx" style="left:10.56px;top:443px;font-size:13.95px;line-height:14px;transform:scaleX(0.9651);">14</div><div class="t nm" style="left:31.85px;top:444px;font-size:13.74px;line-height:14px;transform:scaleX(0.957);">Top tech</div><div class="t nm" style="left:200.7px;top:444px;font-size:13.74px;line-height:14px;transform:scaleX(0.957);">Tehnička škola Šibenik</div><div class="t nm" style="left:484.85px;top:444px;font-size:13.74px;line-height:14px;transform:scaleX(0.957);">Šibenik</div><div class="t num" style="left:586.82px;top:443px;font-size:13.95px;line-height:14px;transform:scaleX(0.995);">9.5</div><div class="t num" style="left:643.29px;top:443px;font-size:13.95px;line-height:14px;transform:scaleX(0.995);">12.9</div><div class="t num" style="left:703.69px;top:443px;font-size:13.95px;line-height:14px;transform:scaleX(0.995);">13.4</div><div class="t num" style="left:764.12px;top:443px;font-size:13.95px;line-height:14px;transform:scaleX(0.995);">14.0</div><div class="t num" style="left:825.09px;top:443px;font-size:13.95px;line-height:14px;transform:scaleX(0.995);">11.0</div><div class="t num" style="left:885.28px;top:443px;font-size:13.95px;line-height:14px;transform:scaleX(0.995);">11.3</div><div class="t num" style="left:948.65px;top:443px;font-size:13.95px;line-height:14px;transform:scaleX(0.995);">9.4</div><div class="t num" style="left:1004.86px;top:443px;font-size:13.95px;line-height:14px;transform:scaleX(0.995);">15.8</div><div class="t w" style="left:1105.43px;top:443px;font-size:15.7px;line-height:16px;transform:scaleX(0.9403);">87.9</div>
<div class="t idx" style="left:10.69px;top:465px;font-size:13.95px;line-height:14px;transform:scaleX(0.9651);">15</div><div class="t nm" style="left:31.85px;top:466px;font-size:13.74px;line-height:14px;transform:scaleX(0.957);">Cure i Ražinac iz Mede</div><div class="t nm" style="left:200.7px;top:466px;font-size:13.74px;line-height:14px;transform:scaleX(0.957);">Medicinska škola, Šibenik</div><div class="t nm" style="left:484.85px;top:466px;font-size:13.74px;line-height:14px;transform:scaleX(0.957);">Šibenik</div><div class="t num" style="left:586.75px;top:465px;font-size:13.95px;line-height:14px;transform:scaleX(0.995);">7.0</div><div class="t num" style="left:643.33px;top:465px;font-size:13.95px;line-height:14px;transform:scaleX(0.995);">13.7</div><div class="t num" style="left:704.35px;top:465px;font-size:13.95px;line-height:14px;transform:scaleX(0.995);">11.7</div><div class="t num" style="left:768.22px;top:465px;font-size:13.95px;line-height:14px;transform:scaleX(0.995);">9.6</div><div class="t num" style="left:825.13px;top:465px;font-size:13.95px;line-height:14px;transform:scaleX(0.995);">11.3</div><div class="t num" style="left:885.28px;top:465px;font-size:13.95px;line-height:14px;transform:scaleX(0.995);">11.5</div><div class="t num" style="left:945.21px;top:465px;font-size:13.95px;line-height:14px;transform:scaleX(0.995);">11.9</div><div class="t num" style="left:1005.31px;top:465px;font-size:13.95px;line-height:14px;transform:scaleX(0.995);">11.4</div><div class="t w" style="left:1105.36px;top:464px;font-size:15.7px;line-height:16px;transform:scaleX(0.9403);">81.1</div>
<div class="t idx" style="left:10.69px;top:487px;font-size:13.95px;line-height:14px;transform:scaleX(0.9651);">16</div><div class="t nm" style="left:31.85px;top:487px;font-size:13.74px;line-height:14px;transform:scaleX(0.957);">Ytong</div><div class="t nm" style="left:200.7px;top:487px;font-size:13.74px;line-height:14px;transform:scaleX(0.957);">Tehnička škola Šibenik</div><div class="t nm" style="left:484.85px;top:488px;font-size:13.74px;line-height:14px;transform:scaleX(0.957);">Šibenik</div><div class="t num" style="left:586.78px;top:487px;font-size:13.95px;line-height:14px;transform:scaleX(0.995);">8.0</div><div class="t num" style="left:643.33px;top:487px;font-size:13.95px;line-height:14px;transform:scaleX(0.995);">12.7</div><div class="t num" style="left:703.76px;top:487px;font-size:13.95px;line-height:14px;transform:scaleX(0.995);">14.3</div><div class="t num" style="left:768.29px;top:487px;font-size:13.95px;line-height:14px;transform:scaleX(0.995);">9.2</div><div class="t num" style="left:825.06px;top:487px;font-size:13.95px;line-height:14px;transform:scaleX(0.995);">11.4</div><div class="t num" style="left:888.89px;top:487px;font-size:13.95px;line-height:14px;transform:scaleX(0.995);">9.2</div><div class="t num" style="left:948.68px;top:487px;font-size:13.95px;line-height:14px;transform:scaleX(0.995);">8.0</div><div class="t num" style="left:1004.86px;top:487px;font-size:13.95px;line-height:14px;transform:scaleX(0.995);">13.5</div><div class="t w" style="left:1105.36px;top:486px;font-size:15.7px;line-height:16px;transform:scaleX(0.9403);">78.3</div>
<div class="t idx" style="left:10.83px;top:509px;font-size:13.95px;line-height:14px;transform:scaleX(0.9651);">17</div><div class="t nm" style="left:31.85px;top:509px;font-size:13.74px;line-height:14px;transform:scaleX(0.957);">Morićeva četvorka</div><div class="t nm" style="left:200.7px;top:509px;font-size:13.74px;line-height:14px;transform:scaleX(0.957);">Gimnazija Antuna Vrančića</div><div class="t nm" style="left:484.85px;top:509px;font-size:13.74px;line-height:14px;transform:scaleX(0.957);">Šibenik</div><div class="t num" style="left:586.78px;top:509px;font-size:13.95px;line-height:14px;transform:scaleX(0.995);">8.0</div><div class="t num" style="left:643.33px;top:509px;font-size:13.95px;line-height:14px;transform:scaleX(0.995);">17.2</div><div class="t num" style="left:703.76px;top:509px;font-size:13.95px;line-height:14px;transform:scaleX(0.995);">14.5</div><div class="t num" style="left:764.09px;top:509px;font-size:13.95px;line-height:14px;transform:scaleX(0.995);">16.4</div><div class="t num" style="left:828.67px;top:509px;font-size:13.95px;line-height:14px;transform:scaleX(0.995);">0.0</div><div class="t num" style="left:888.85px;top:509px;font-size:13.95px;line-height:14px;transform:scaleX(0.995);">7.2</div><div class="t num" style="left:948.72px;top:509px;font-size:13.95px;line-height:14px;transform:scaleX(0.995);">0.0</div><div class="t num" style="left:1004.86px;top:509px;font-size:13.95px;line-height:14px;transform:scaleX(0.995);">14.6</div><div class="t w" style="left:1105.36px;top:508px;font-size:15.7px;line-height:16px;transform:scaleX(0.9403);">77.9</div>
<div class="t idx" style="left:10.69px;top:530px;font-size:13.95px;line-height:14px;transform:scaleX(0.9651);">18</div><div class="t nm" style="left:31.85px;top:531px;font-size:13.74px;line-height:14px;transform:scaleX(0.957);">Leteći medvjedići</div><div class="t nm" style="left:200.7px;top:531px;font-size:13.74px;line-height:14px;transform:scaleX(0.957);">Medicinska škola, Šibenik</div><div class="t nm" style="left:484.85px;top:531px;font-size:13.74px;line-height:14px;transform:scaleX(0.957);">Šibenik</div><div class="t num" style="left:586.82px;top:530px;font-size:13.95px;line-height:14px;transform:scaleX(0.995);">8.5</div><div class="t num" style="left:643.85px;top:530px;font-size:13.95px;line-height:14px;transform:scaleX(0.995);">11.2</div><div class="t num" style="left:707.78px;top:530px;font-size:13.95px;line-height:14px;transform:scaleX(0.995);">7.3</div><div class="t num" style="left:768.25px;top:530px;font-size:13.95px;line-height:14px;transform:scaleX(0.995);">8.9</div><div class="t num" style="left:828.74px;top:530px;font-size:13.95px;line-height:14px;transform:scaleX(0.995);">5.1</div><div class="t num" style="left:885.28px;top:530px;font-size:13.95px;line-height:14px;transform:scaleX(0.995);">11.8</div><div class="t num" style="left:945.14px;top:530px;font-size:13.95px;line-height:14px;transform:scaleX(0.995);">11.0</div><div class="t num" style="left:1004.82px;top:530px;font-size:13.95px;line-height:14px;transform:scaleX(0.995);">14.0</div><div class="t w" style="left:1105.4px;top:529px;font-size:15.7px;line-height:16px;transform:scaleX(0.9403);">72.7</div>
<div class="t idx" style="left:10.76px;top:552px;font-size:13.95px;line-height:14px;transform:scaleX(0.9651);">19</div><div class="t nm" style="left:31.85px;top:552px;font-size:13.74px;line-height:14px;transform:scaleX(0.957);">Pitbull</div><div class="t nm" style="left:200.7px;top:552px;font-size:13.74px;line-height:14px;transform:scaleX(0.957);">Gimnazija Antuna Vrančića</div><div class="t nm" style="left:484.85px;top:553px;font-size:13.74px;line-height:14px;transform:scaleX(0.957);">Šibenik</div><div class="t num" style="left:587.03px;top:552px;font-size:13.95px;line-height:14px;transform:scaleX(0.995);">4.9</div><div class="t num" style="left:643.29px;top:552px;font-size:13.95px;line-height:14px;transform:scaleX(0.995);">12.9</div><div class="t num" style="left:704.31px;top:552px;font-size:13.95px;line-height:14px;transform:scaleX(0.995);">11.9</div><div class="t num" style="left:764.19px;top:552px;font-size:13.95px;line-height:14px;transform:scaleX(0.995);">13.9</div><div class="t num" style="left:828.63px;top:552px;font-size:13.95px;line-height:14px;transform:scaleX(0.995);">9.0</div><div class="t num" style="left:888.82px;top:552px;font-size:13.95px;line-height:14px;transform:scaleX(0.995);">7.1</div><div class="t num" style="left:948.72px;top:552px;font-size:13.95px;line-height:14px;transform:scaleX(0.995);">9.6</div><div class="t num" style="left:1008.88px;top:552px;font-size:13.95px;line-height:14px;transform:scaleX(0.995);">6.6</div><div class="t w" style="left:1105.4px;top:551px;font-size:15.7px;line-height:16px;transform:scaleX(0.9403);">71.0</div>
<div class="t idx" style="left:10.63px;top:574px;font-size:13.95px;line-height:14px;transform:scaleX(0.9651);">20</div><div class="t nm" style="left:31.85px;top:574px;font-size:13.74px;line-height:14px;transform:scaleX(0.957);">Stribor</div><div class="t nm" style="left:200.7px;top:574px;font-size:13.74px;line-height:14px;transform:scaleX(0.957);">Medicinska škola, Šibenik</div><div class="t nm" style="left:484.85px;top:574px;font-size:13.74px;line-height:14px;transform:scaleX(0.957);">Šibenik</div><div class="t num" style="left:586.85px;top:574px;font-size:13.95px;line-height:14px;transform:scaleX(0.995);">6.2</div><div class="t num" style="left:647.32px;top:574px;font-size:13.95px;line-height:14px;transform:scaleX(0.995);">0.0</div><div class="t num" style="left:707.89px;top:574px;font-size:13.95px;line-height:14px;transform:scaleX(0.995);">9.7</div><div class="t num" style="left:768.22px;top:574px;font-size:13.95px;line-height:14px;transform:scaleX(0.995);">9.8</div><div class="t num" style="left:828.74px;top:574px;font-size:13.95px;line-height:14px;transform:scaleX(0.995);">9.7</div><div class="t num" style="left:888.82px;top:574px;font-size:13.95px;line-height:14px;transform:scaleX(0.995);">0.0</div><div class="t num" style="left:948.79px;top:574px;font-size:13.95px;line-height:14px;transform:scaleX(0.995);">8.7</div><div class="t num" style="left:1004.93px;top:574px;font-size:13.95px;line-height:14px;transform:scaleX(0.995);">13.7</div><div class="t w" style="left:1105.4px;top:573px;font-size:15.7px;line-height:16px;transform:scaleX(0.9403);">57.8</div>
<div class="t idx" style="left:10.76px;top:595px;font-size:13.95px;line-height:14px;transform:scaleX(0.9651);">21</div><div class="t nm" style="left:31.85px;top:596px;font-size:13.74px;line-height:14px;transform:scaleX(0.957);">Buonaparte</div><div class="t nm" style="left:200.7px;top:596px;font-size:13.74px;line-height:14px;transform:scaleX(0.957);">Medicinska škola, Šibenik</div><div class="t nm" style="left:484.85px;top:596px;font-size:13.74px;line-height:14px;transform:scaleX(0.957);">Šibenik</div><div class="t num" style="left:586.78px;top:595px;font-size:13.95px;line-height:14px;transform:scaleX(0.995);">6.5</div><div class="t num" style="left:647.32px;top:595px;font-size:13.95px;line-height:14px;transform:scaleX(0.995);">8.8</div><div class="t num" style="left:707.82px;top:595px;font-size:13.95px;line-height:14px;transform:scaleX(0.995);">8.6</div><div class="t num" style="left:764.75px;top:595px;font-size:13.95px;line-height:14px;transform:scaleX(0.995);">11.2</div><div class="t num" style="left:828.67px;top:595px;font-size:13.95px;line-height:14px;transform:scaleX(0.995);">0.0</div><div class="t num" style="left:888.82px;top:595px;font-size:13.95px;line-height:14px;transform:scaleX(0.995);">0.0</div><div class="t num" style="left:948.72px;top:595px;font-size:13.95px;line-height:14px;transform:scaleX(0.995);">8.3</div><div class="t num" style="left:1004.93px;top:595px;font-size:13.95px;line-height:14px;transform:scaleX(0.995);">10.7</div><div class="t w" style="left:1105.36px;top:594px;font-size:15.7px;line-height:16px;transform:scaleX(0.9403);">54.1</div>
<div class="t idx" style="left:10.83px;top:617px;font-size:13.95px;line-height:14px;transform:scaleX(0.9651);">22</div><div class="t nm" style="left:31.85px;top:617px;font-size:13.74px;line-height:14px;transform:scaleX(0.957);">Prinčipese</div><div class="t nm" style="left:200.7px;top:617px;font-size:13.74px;line-height:14px;transform:scaleX(0.957);">Medicinska škola, Šibenik</div><div class="t nm" style="left:484.85px;top:618px;font-size:13.74px;line-height:14px;transform:scaleX(0.957);">Šibenik</div><div class="t num" style="left:586.82px;top:617px;font-size:13.95px;line-height:14px;transform:scaleX(0.995);">8.8</div><div class="t num" style="left:647.25px;top:617px;font-size:13.95px;line-height:14px;transform:scaleX(0.995);">7.0</div><div class="t num" style="left:704.31px;top:617px;font-size:13.95px;line-height:14px;transform:scaleX(0.995);">11.1</div><div class="t num" style="left:768.22px;top:617px;font-size:13.95px;line-height:14px;transform:scaleX(0.995);">0.0</div><div class="t num" style="left:828.67px;top:617px;font-size:13.95px;line-height:14px;transform:scaleX(0.995);">0.0</div><div class="t num" style="left:884.79px;top:617px;font-size:13.95px;line-height:14px;transform:scaleX(0.995);">13.9</div><div class="t num" style="left:944.62px;top:617px;font-size:13.95px;line-height:14px;transform:scaleX(0.995);">13.0</div><div class="t num" style="left:1008.92px;top:617px;font-size:13.95px;line-height:14px;transform:scaleX(0.995);">0.0</div><div class="t w" style="left:1105.4px;top:616px;font-size:15.7px;line-height:16px;transform:scaleX(0.9403);">53.8</div>
<div class="t idx" style="left:10.69px;top:639px;font-size:13.95px;line-height:14px;transform:scaleX(0.9651);">23</div><div class="t nm" style="left:31.85px;top:639px;font-size:13.74px;line-height:14px;transform:scaleX(0.957);">Galebi/golubi</div><div class="t nm" style="left:200.7px;top:639px;font-size:13.74px;line-height:14px;transform:scaleX(0.957);">Industrijsko-obrtnička škola</div><div class="t nm" style="left:484.85px;top:639px;font-size:13.74px;line-height:14px;transform:scaleX(0.957);">Šibenik</div><div class="t num" style="left:586.82px;top:639px;font-size:13.95px;line-height:14px;transform:scaleX(0.995);">6.1</div><div class="t num" style="left:647.32px;top:639px;font-size:13.95px;line-height:14px;transform:scaleX(0.995);">6.1</div><div class="t num" style="left:707.96px;top:639px;font-size:13.95px;line-height:14px;transform:scaleX(0.995);">4.0</div><div class="t num" style="left:768.22px;top:639px;font-size:13.95px;line-height:14px;transform:scaleX(0.995);">0.0</div><div class="t num" style="left:828.67px;top:639px;font-size:13.95px;line-height:14px;transform:scaleX(0.995);">0.0</div><div class="t num" style="left:888.82px;top:639px;font-size:13.95px;line-height:14px;transform:scaleX(0.995);">0.0</div><div class="t num" style="left:948.82px;top:639px;font-size:13.95px;line-height:14px;transform:scaleX(0.995);">5.2</div><div class="t num" style="left:1008.92px;top:639px;font-size:13.95px;line-height:14px;transform:scaleX(0.995);">0.0</div><div class="t w" style="left:1105.17px;top:638px;font-size:15.7px;line-height:16px;transform:scaleX(0.9403);">21.4</div>
<div class="t idx" style="left:10.56px;top:660px;font-size:13.95px;line-height:14px;transform:scaleX(0.9651);">24</div><div class="t nm" style="left:31.85px;top:661px;font-size:13.74px;line-height:14px;transform:scaleX(0.957);">Kapulica</div><div class="t nm" style="left:200.7px;top:661px;font-size:13.74px;line-height:14px;transform:scaleX(0.957);">Prometno-tehnička škola</div><div class="t nm" style="left:484.85px;top:661px;font-size:13.74px;line-height:14px;transform:scaleX(0.957);">Šibenik</div><div class="t num" style="left:586.82px;top:660px;font-size:13.95px;line-height:14px;transform:scaleX(0.995);">0.0</div><div class="t num" style="left:647.25px;top:660px;font-size:13.95px;line-height:14px;transform:scaleX(0.995);">6.0</div><div class="t num" style="left:703.76px;top:660px;font-size:13.95px;line-height:14px;transform:scaleX(0.995);">12.3</div><div class="t num" style="left:768.22px;top:660px;font-size:13.95px;line-height:14px;transform:scaleX(0.995);">0.0</div><div class="t num" style="left:828.67px;top:660px;font-size:13.95px;line-height:14px;transform:scaleX(0.995);">0.0</div><div class="t num" style="left:888.82px;top:660px;font-size:13.95px;line-height:14px;transform:scaleX(0.995);">0.0</div><div class="t num" style="left:948.72px;top:660px;font-size:13.95px;line-height:14px;transform:scaleX(0.995);">0.0</div><div class="t num" style="left:1008.92px;top:660px;font-size:13.95px;line-height:14px;transform:scaleX(0.995);">0.0</div><div class="t w" style="left:1105.21px;top:659px;font-size:15.7px;line-height:16px;transform:scaleX(0.9403);">18.3</div>
<div class="t idx" style="left:10.69px;top:682px;font-size:13.95px;line-height:14px;transform:scaleX(0.9651);">25</div><div class="t nm" style="left:31.85px;top:682px;font-size:13.74px;line-height:14px;transform:scaleX(0.957);">Kurzschluss</div><div class="t nm" style="left:200.7px;top:682px;font-size:13.74px;line-height:14px;transform:scaleX(0.957);">Industrijsko-obrtnička škola</div><div class="t nm" style="left:484.85px;top:683px;font-size:13.74px;line-height:14px;transform:scaleX(0.957);">Šibenik</div><div class="t num" style="left:586.85px;top:682px;font-size:13.95px;line-height:14px;transform:scaleX(0.995);">5.8</div><div class="t num" style="left:647.32px;top:682px;font-size:13.95px;line-height:14px;transform:scaleX(0.995);">0.0</div><div class="t num" style="left:707.82px;top:682px;font-size:13.95px;line-height:14px;transform:scaleX(0.995);">0.0</div><div class="t num" style="left:768.22px;top:682px;font-size:13.95px;line-height:14px;transform:scaleX(0.995);">0.0</div><div class="t num" style="left:828.67px;top:682px;font-size:13.95px;line-height:14px;transform:scaleX(0.995);">0.0</div><div class="t num" style="left:888.82px;top:682px;font-size:13.95px;line-height:14px;transform:scaleX(0.995);">0.0</div><div class="t num" style="left:948.72px;top:682px;font-size:13.95px;line-height:14px;transform:scaleX(0.995);">0.0</div><div class="t num" style="left:1008.92px;top:682px;font-size:13.95px;line-height:14px;transform:scaleX(0.995);">0.0</div><div class="t w" style="left:1109.49px;top:681px;font-size:15.7px;line-height:16px;transform:scaleX(0.9403);">5.8</div>
<div class="t idx" style="left:10.69px;top:704px;font-size:13.95px;line-height:14px;transform:scaleX(0.9651);">26</div><div class="t nm" style="left:31.85px;top:704px;font-size:13.74px;line-height:14px;transform:scaleX(0.957);">4 + 1 gratis</div><div class="t nm" style="left:200.7px;top:704px;font-size:13.74px;line-height:14px;transform:scaleX(0.957);">Gimnazija Antuna Vrančića</div><div class="t nm" style="left:484.85px;top:704px;font-size:13.74px;line-height:14px;transform:scaleX(0.957);">Šibenik</div><div class="t num" style="left:586.92px;top:704px;font-size:13.95px;line-height:14px;transform:scaleX(0.995);">4.4</div><div class="t num" style="left:647.32px;top:704px;font-size:13.95px;line-height:14px;transform:scaleX(0.995);">0.0</div><div class="t num" style="left:707.82px;top:704px;font-size:13.95px;line-height:14px;transform:scaleX(0.995);">0.0</div><div class="t num" style="left:768.22px;top:704px;font-size:13.95px;line-height:14px;transform:scaleX(0.995);">0.0</div><div class="t num" style="left:828.67px;top:704px;font-size:13.95px;line-height:14px;transform:scaleX(0.995);">0.0</div><div class="t num" style="left:888.82px;top:704px;font-size:13.95px;line-height:14px;transform:scaleX(0.995);">0.0</div><div class="t num" style="left:948.72px;top:704px;font-size:13.95px;line-height:14px;transform:scaleX(0.995);">0.0</div><div class="t num" style="left:1008.92px;top:704px;font-size:13.95px;line-height:14px;transform:scaleX(0.995);">0.0</div><div class="t w" style="left:1109.42px;top:703px;font-size:15.7px;line-height:16px;transform:scaleX(0.9403);">4.4</div>
</body></html>
